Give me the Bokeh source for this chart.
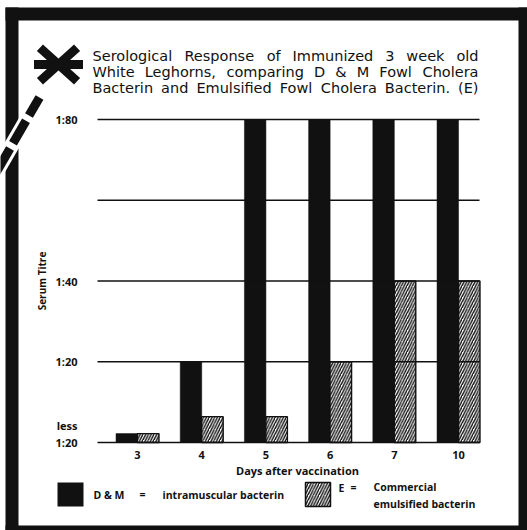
import math
from bokeh.plotting import figure
from bokeh.models import LinearAxis, FixedTicker, Range1d, ColumnDataSource
from bokeh.core.properties import value
from bokeh.transform import dodge
from bokeh.embed import file_html
from bokeh.resources import INLINE

# ---------------- data ----------------
days = ["3", "4", "5", "6", "7", "10"]
dm_titre = [0.11, 1.0, 4.0, 4.0, 4.0, 4.0]      # D & M intramuscular bacterin
e_titre = [0.11, 0.32, 0.32, 1.0, 2.0, 2.0]     # E commercial emulsified bacterin
titre_levels = [0, 1, 2, 3, 4]
titre_labels = ["less\n1:20\n", "1:20", "1:40", "", "1:80"]
title_lines = ["Serological Response of Immunized 3 week old",
               "White Leghorns, comparing D & M Fowl Cholera",
               "Bacterin and Emulsified Fowl Cholera Bacterin. (E)"]
x_title = "Days after vaccination"
y_title = "Serum Titre"
legend_dm = ["D & M", "=", "intramuscular bacterin"]
legend_e = ["E", "=", "Commercial", "emulsified bacterin"]

# ---------------- geometry (page pixels) ----------------
W, H = 527, 530
X0, KX = 137.0, 64.2     # pixel of first category, px per category
Y0, KY = 442.0, 80.75    # pixel of baseline, px per titre step
PL, PR = 97, 479         # plot area left / right pixel
TITLE_L, TITLE_R = 92, 478
title_base_y = [55, 71, 87]
TITLE_SIZE = 14.5

# approximate DejaVu Sans advance widths (em) used to justify the title lines
ADV = {"a": .613, "b": .635, "c": .550, "d": .635, "e": .615, "f": .352, "g": .635,
       "h": .634, "i": .278, "j": .278, "k": .579, "l": .278, "m": .974, "n": .634,
       "o": .612, "p": .635, "q": .635, "r": .411, "s": .521, "t": .392, "u": .634,
       "v": .592, "w": .818, "x": .592, "y": .592, "z": .525, "A": .684, "B": .686,
       "C": .698, "D": .770, "E": .632, "F": .575, "I": .295, "L": .557, "M": .863,
       "R": .695, "S": .635, "W": .989, "&": .780, ".": .318, ",": .318, "(": .390,
       ")": .390}


def word_width(w):
    return sum(ADV.get(c, 0.636) for c in w) * TITLE_SIZE


def dx(px):
    return (px - X0) / KX


def dy(py):
    return (Y0 - py) / KY


p = figure(width=W, height=H, output_backend="svg", toolbar_location=None,
           x_range=Range1d(dx(0), dx(W)), y_range=Range1d(dy(H), dy(0)),
           x_axis_location=None, y_axis_location=None,
           min_border=0, min_border_left=0, min_border_right=0,
           min_border_top=0, min_border_bottom=0)
p.outline_line_color = None
p.background_fill_color = "white"
p.border_fill_color = "white"
p.grid.visible = False

INK = "#111111"
FONT = "Open Sans"

# ---------------- bars ----------------
src = ColumnDataSource(dict(x=list(range(len(days))), dm=dm_titre, e=e_titre))
p.vbar(x=dodge("x", -0.167, range=p.x_range), top="dm", width=0.335, source=src,
       fill_color=INK, line_color=INK, line_width=0.5)
p.vbar(x=dodge("x", 0.167, range=p.x_range), top="e", width=0.335, source=src,
       fill_color="white", line_color=INK, line_width=1.4,
       hatch_pattern="/", hatch_scale=5.5, hatch_weight=1.4, hatch_color=INK)

# horizontal rules at the titre levels (drawn over the bars) and the base line
p.segment(x0=[dx(PL)] * len(titre_levels), x1=[dx(PR)] * len(titre_levels),
          y0=titre_levels, y1=titre_levels, line_color=INK,
          line_width=[1.6] + [1.4] * (len(titre_levels) - 1))

# ---------------- axes ----------------
xaxis = LinearAxis(fixed_location=0, bounds=(dx(PL + 18), dx(PR)),
                   ticker=FixedTicker(ticks=list(range(len(days)))),
                   major_label_overrides={i: d for i, d in enumerate(days)})
xaxis.axis_line_color = None
xaxis.major_tick_line_color = None
xaxis.minor_tick_line_color = None
xaxis.major_label_standoff = 2
xaxis.major_label_text_font = FONT
xaxis.major_label_text_font_style = "bold"
xaxis.major_label_text_font_size = "11px"
xaxis.major_label_text_color = INK
xaxis.axis_label = x_title
xaxis.axis_label_standoff = 1
xaxis.axis_label_text_font = FONT
xaxis.axis_label_text_font_style = "bold"
xaxis.axis_label_text_font_size = "11px"
xaxis.axis_label_text_color = INK
p.add_layout(xaxis, "below")

yaxis = LinearAxis(fixed_location=dx(PL), bounds=(0, 4),
                   ticker=FixedTicker(ticks=titre_levels),
                   major_label_overrides=dict(zip(titre_levels, titre_labels)))
yaxis.axis_line_color = None
yaxis.major_tick_line_color = None
yaxis.minor_tick_line_color = None
yaxis.major_label_standoff = 14
yaxis.major_label_text_font = FONT
yaxis.major_label_text_font_style = "bold"
yaxis.major_label_text_font_size = "11px"
yaxis.major_label_text_color = INK
yaxis.major_label_text_line_height = 1.15
yaxis.axis_label = y_title
yaxis.axis_label_standoff = 3
yaxis.axis_label_text_font = FONT
yaxis.axis_label_text_font_style = "bold"
yaxis.axis_label_text_font_size = "10px"
yaxis.axis_label_text_color = INK
p.add_layout(yaxis, "left")


# ---------------- decorations ----------------
def box(x0, y0, x1, y1, **kw):
    args = dict(fill_color=INK, line_color=None)
    args.update(kw)
    p.quad(left=[dx(x0)], right=[dx(x1)], top=[dy(y0)], bottom=[dy(y1)], **args)


def strip(cx, cy, ang, d0, d1, thick):
    ux, uy = math.cos(math.radians(ang)), math.sin(math.radians(ang))
    nx, ny = -uy, ux
    h = thick / 2
    pts = [(cx + ux * d0 + nx * h, cy + uy * d0 + ny * h),
           (cx + ux * d1 + nx * h, cy + uy * d1 + ny * h),
           (cx + ux * d1 - nx * h, cy + uy * d1 - ny * h),
           (cx + ux * d0 - nx * h, cy + uy * d0 - ny * h)]
    return [dx(a) for a, b in pts], [dy(b) for a, b in pts]


# black frame round the chart
box(5, 7, W, 20)
box(5, 7, 18, H)
box(518, 7, W, H)
box(5, 525, W, H)

# asterisk with dashed tail
CX, CY = 58, 64
hx, hy = strip(CX, CY, 120, 36, 145, 15)
p.patches(xs=[hx], ys=[hy], fill_color="white", line_color=None)
ax, ay = [], []
for d0, d1 in [(38, 59), (65, 91), (97, 145)]:
    a, b = strip(CX, CY, 120, d0, d1, 9)
    ax.append(a)
    ay.append(b)
for ang, half in [(0, 24.5), (42, 25), (-42, 25)]:
    a, b = strip(CX, CY, ang, -half, half, 9)
    ax.append(a)
    ay.append(b)
p.patches(xs=ax, ys=ay, fill_color=INK, line_color=None)

# title, word by word with even gaps so that each line is justified
wx, wy, wt = [], [], []
for line, by in zip(title_lines, title_base_y):
    words = line.split(" ")
    widths = [word_width(w) for w in words]
    gap = (TITLE_R - TITLE_L - sum(widths)) / (len(words) - 1)
    x = TITLE_L
    for word, w in zip(words, widths):
        wx.append(dx(x))
        wy.append(dy(by))
        wt.append(word)
        x += w + gap
p.text(x=wx, y=wy, text=wt, text_font=value("DejaVu Sans"),
       text_font_size=value(f"{TITLE_SIZE}px"), text_color=INK,
       text_baseline="alphabetic", text_align="left")

# legend key
box(57, 482, 83, 506)
box(305, 482, 330, 506, fill_color="white", line_color=INK, line_width=1.5,
    hatch_pattern="/", hatch_scale=5.5, hatch_weight=1.4, hatch_color=INK)

lx = [93, 139, 162, 338, 350, 373, 373]
ly = [494, 493, 494, 487, 486, 486, 503]
lt = legend_dm + legend_e
p.text(x=[dx(v) for v in lx], y=[dy(v) for v in ly], text=lt,
       text_font=value(FONT), text_font_style="bold", text_font_size=value("10.5px"),
       text_color=INK, text_baseline="middle", text_align="left")

open("out.html", "w").write(file_html(p, INLINE))
